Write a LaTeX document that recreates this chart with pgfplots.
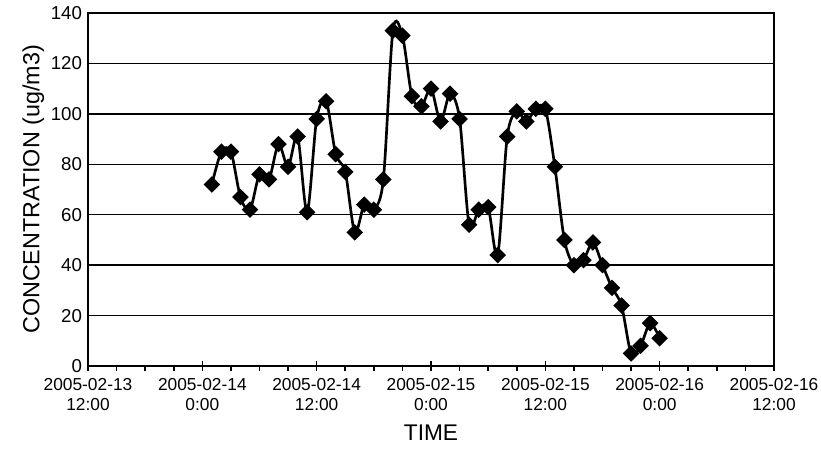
\documentclass[border=0pt]{standalone}
\usepackage{pgfplots}
\pgfplotsset{compat=1.18}
\usepackage{fontspec}
\setmainfont{Liberation Sans}
\begin{document}
\begin{tikzpicture}
\begin{axis}[
  name=ax,
  scale only axis,
  width=514.5pt, height=264.75pt,
  xmin=0, xmax=72, ymin=0, ymax=140,
  xtick={0,12,...,72},
  xticklabels={{2005-02-13\\12:00},{2005-02-14\\0:00},{2005-02-14\\12:00},{2005-02-15\\0:00},{2005-02-15\\12:00},{2005-02-16\\0:00},{2005-02-16\\12:00}},
  minor x tick num=3,
  xtick pos=bottom,
  xtick align=center,
  major tick length=7pt,
  minor tick length=4pt,
  minor x tick style={yshift=-2pt, line width=1.2pt, black},
  major x tick style={line width=1.2pt, black},
  ytick={0,20,...,140},
  ytick style={draw=none},
  ymajorgrids,
  major grid style={line width=1.1pt, black},
  axis line style={line width=1.5pt, black},
  /pgf/number format/assume math mode=true,
  xticklabel style={align=center, font=\fontsize{13}{15}\selectfont, yshift=-2pt},
  yticklabel style={font=\fontsize{14}{16}\selectfont, xshift=-1pt},
  xlabel={TIME},
  ylabel={CONCENTRATION (ug/m3)},
  xlabel style={font=\fontsize{17}{20}\selectfont, yshift=-4pt},
  ylabel style={font=\fontsize{17.5}{20}\selectfont, yshift=-2pt},
  clip=false,
]
\addplot[black, line width=2pt, smooth, tension=0.5,
  mark=square*, mark size=3.4pt, mark options={rotate=45, solid, fill=black}]
coordinates {
(13,72) (14,85) (15,85) (16,67) (17,62) (18,76) (19,74) (20,88) (21,79) (22,91)
(23,61) (24,98) (25,105) (26,84) (27,77) (28,53) (29,64) (30,62) (31,74) (32,133)
(33,131) (34,107) (35,103) (36,110) (37,97) (38,108) (39,98) (40,56) (41,62) (42,63)
(43,44) (44,91) (45,101) (46,97) (47,102) (48,102) (49,79) (50,50) (51,40) (52,42)
(53,49) (54,40) (55,31) (56,24) (57,5) (58,8) (59,17) (60,11)
};
\end{axis}
\pgfresetboundingbox
\path ([shift={(-66pt,-63pt)}]ax.south west) rectangle ([shift={(35.25pt,9.75pt)}]ax.north east);
\end{tikzpicture}
\end{document}
